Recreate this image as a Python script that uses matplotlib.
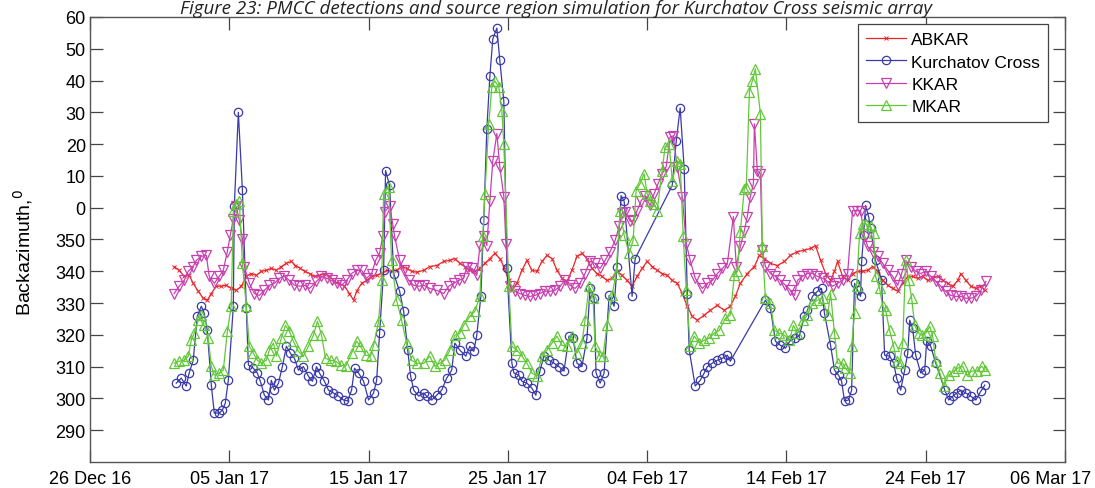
import numpy as np
import matplotlib
matplotlib.use("Agg")
import matplotlib.pyplot as plt
import matplotlib.dates as mdates
from matplotlib.ticker import FixedLocator
from matplotlib.transforms import ScaledTranslation

# time in days since 26 Dec 2016, backazimuth in degrees (0-360)
base_date = np.datetime64('2016-12-26')

ab_day = [6.04, 6.40, 6.76, 7.12, 7.41, 7.77, 8.13, 8.42, 8.71, 9.06, 9.42, 9.78, 10.14, 10.50, 10.86,
          11.22, 11.58, 11.94, 12.30, 12.66, 13.02, 13.38, 13.74, 14.10, 14.46, 14.75, 15.11, 15.40,
          15.76, 16.12, 16.47, 16.83, 17.19, 17.55, 17.91, 18.27, 18.63, 18.92, 19.14, 19.50, 19.86,
          20.22, 20.58, 20.94, 21.29, 21.65, 22.01, 22.37, 22.73, 23.09, 23.45, 23.96, 24.39, 24.89,
          25.40, 25.83, 26.19, 26.55, 26.91, 27.27, 27.63, 27.99, 28.35, 28.71, 29.06, 29.42, 29.71,
          30.07, 30.29, 30.65, 31.01, 31.37, 31.73, 32.09, 32.45, 32.81, 33.17, 33.53, 33.88, 34.24,
          34.60, 34.96, 35.32, 35.68, 36.04, 36.40, 36.76, 37.12, 37.48, 37.84, 38.20, 38.56, 38.92,
          39.28, 39.64, 40.00, 40.36, 40.72, 41.08, 41.44, 41.80, 42.16, 42.52, 42.88, 43.24, 43.60,
          44.10, 44.53, 45.04, 45.54, 45.97, 46.33, 46.69, 47.19, 47.70, 48.06, 48.42, 48.85, 49.35,
          49.86, 50.29, 50.79, 51.29, 51.73, 52.09, 52.45, 52.81, 53.17, 53.45, 53.67, 54.03, 54.39,
          54.75, 55.11, 55.47, 55.83, 56.19, 56.55, 56.91, 57.27, 57.63, 57.99, 58.35, 58.71, 59.06,
          59.42, 59.78, 60.14, 60.50, 60.86, 61.22, 61.58, 61.94, 62.30, 62.52, 62.88, 63.24, 63.60,
          63.96, 64.24]
ab_az = [341.5, 340.3, 338.4, 338.7, 336.2, 333.7, 331.5, 330.9, 333.0, 335.3, 335.3, 335.6, 334.6,
         334.0, 335.3, 338.4, 339.3, 338.7, 340.0, 340.3, 340.9, 340.3, 341.5, 342.5, 343.1, 341.8,
         340.9, 340.0, 339.3, 338.4, 338.7, 339.3, 338.4, 336.8, 336.2, 335.3, 333.0, 330.9, 333.7,
         336.2, 337.1, 338.4, 338.7, 339.3, 340.3, 340.0, 340.3, 341.5, 340.9, 340.0, 339.7, 340.3,
         341.5, 341.8, 343.1, 343.4, 344.0, 342.5, 341.5, 340.3, 340.0, 340.9, 342.5, 344.0, 345.6,
         344.0, 341.5, 337.1, 334.0, 336.2, 340.3, 343.4, 340.3, 340.0, 343.1, 345.0, 344.0, 340.3,
         337.8, 336.8, 340.3, 344.7, 345.6, 344.0, 340.9, 339.3, 338.4, 337.1, 337.8, 340.0, 338.7,
         337.1, 335.3, 338.4, 340.9, 343.1, 341.5, 340.3, 339.3, 338.7, 337.1, 336.2, 333.0, 329.0,
         325.8, 324.6, 326.2, 327.7, 329.3, 327.7, 329.0, 332.1, 336.2, 339.3, 341.5, 345.0, 344.0,
         342.5, 341.8, 343.1, 345.0, 346.2, 346.6, 347.2, 348.1, 343.4, 339.3, 337.1, 340.0, 343.1,
         338.4, 337.1, 339.3, 340.0, 340.0, 340.3, 341.5, 340.0, 337.1, 335.6, 334.6, 333.7, 336.2,
         338.4, 338.4, 337.8, 338.4, 337.1, 337.8, 338.4, 337.1, 336.2, 335.3, 337.1, 339.3, 337.1,
         335.3, 334.6, 335.3, 334.0]

kc_day = [6.19, 6.55, 6.91, 7.12, 7.41, 7.70, 7.99, 8.20, 8.42, 8.71, 8.92, 9.28, 9.50, 9.71, 9.93,
          10.29, 10.36, 10.65, 10.94, 11.22, 11.37, 11.73, 12.01, 12.23, 12.52, 12.81, 13.02, 13.24,
          13.53, 13.81, 14.10, 14.39, 14.68, 14.96, 15.32, 15.68, 15.97, 16.26, 16.47, 16.83, 17.12,
          17.48, 17.84, 18.20, 18.49, 18.78, 18.99, 19.28, 19.64, 20.00, 20.36, 20.58, 20.79, 21.08,
          21.22, 21.51, 21.80, 22.23, 22.52, 22.81, 23.02, 23.24, 23.60, 23.96, 24.17, 24.53, 24.89,
          25.25, 25.61, 25.97, 26.19, 26.55, 26.98, 27.27, 27.55, 27.77, 28.06, 28.27, 28.49, 28.71,
          28.92, 29.21, 29.42, 29.71, 29.93, 30.29, 30.43, 30.79, 31.01, 31.37, 31.73, 32.01, 32.30,
          32.59, 32.95, 33.31, 33.67, 34.03, 34.39, 34.68, 34.96, 35.32, 35.68, 35.90, 36.19, 36.33,
          36.62, 36.91, 37.27, 37.63, 37.84, 38.13, 38.35, 38.92, 39.14, 41.80, 42.09, 42.37, 42.66,
          42.88, 43.02, 43.45, 43.81, 44.10, 44.32, 44.68, 45.04, 45.40, 45.76, 45.97, 48.49, 48.85,
          49.21, 49.57, 49.93, 50.29, 50.65, 50.94, 51.29, 51.51, 51.87, 52.23, 52.52, 52.73, 53.17,
          53.45, 53.74, 53.96, 54.17, 54.46, 54.68, 54.89, 55.11, 55.32, 55.40, 55.54, 55.68, 55.90,
          56.04, 56.40, 56.83, 57.05, 57.41, 57.70, 57.91, 58.20, 58.49, 58.71, 58.85, 59.06, 59.28,
          59.64, 59.93, 60.07, 60.36, 60.72, 61.37, 61.65, 61.94, 62.23, 62.52, 62.88, 63.24, 63.60,
          63.96, 64.24]
kc_az = [304.8, 306.4, 303.9, 308.0, 312.0, 325.8, 329.0, 326.8, 321.4, 304.2, 295.4, 295.4, 296.3,
         298.5, 305.7, 329.0, 0.4, 30.0, 5.7, 328.4, 310.5, 309.5, 308.0, 305.4, 301.0, 299.5, 305.7,
         302.6, 304.8, 310.0, 316.4, 314.2, 312.6, 308.9, 310.0, 307.0, 305.4, 310.0, 308.0, 305.4,
         302.6, 301.7, 300.7, 299.5, 299.2, 302.6, 309.5, 308.0, 305.4, 299.5, 301.7, 305.7, 320.5,
         340.3, 11.7, 7.0, 339.3, 333.7, 327.4, 315.2, 307.0, 302.6, 300.7, 301.7, 300.7, 299.5, 301.0,
         302.6, 306.4, 308.9, 317.4, 315.2, 313.3, 316.4, 314.8, 319.9, 332.1, 356.0, 24.8, 41.5, 53.1,
         56.5, 46.5, 33.6, 341.0, 311.1, 308.0, 307.3, 305.4, 304.8, 303.2, 301.0, 308.6, 313.3, 312.0,
         311.1, 310.0, 308.6, 319.6, 319.0, 311.1, 310.0, 319.0, 334.6, 331.5, 308.0, 304.8, 308.0,
         332.4, 329.0, 341.5, 3.8, 2.0, 332.1, 344.0, 7.0, 21.0, 31.4, 12.3, 333.0, 315.2, 303.9,
         305.7, 308.0, 310.0, 311.1, 312.0, 312.6, 313.6, 311.7, 330.9, 328.4, 318.0, 316.7, 315.8,
         318.3, 319.0, 319.9, 325.8, 327.7, 332.1, 333.7, 334.6, 326.8, 316.7, 308.9, 307.3, 305.4,
         299.2, 299.5, 302.6, 336.2, 334.0, 332.1, 343.1, 351.3, 0.7, 357.2, 353.5, 343.4, 337.1,
         313.6, 313.3, 311.1, 306.4, 302.6, 308.9, 314.2, 324.6, 322.1, 313.6, 308.0, 308.9, 318.0,
         316.4, 311.1, 302.6, 299.5, 300.7, 301.7, 302.6, 301.7, 300.7, 299.5, 302.3, 304.2]

kk_day = [6.04, 6.40, 6.76, 7.05, 7.41, 7.63, 7.99, 8.35, 8.56, 8.92, 9.28, 9.57, 9.86, 10.07, 10.29,
          10.50, 10.72, 10.94, 11.08, 11.44, 11.80, 12.16, 12.52, 12.88, 13.24, 13.60, 13.96, 14.32,
          14.68, 15.04, 15.40, 15.76, 16.26, 16.62, 16.98, 17.34, 17.70, 18.06, 18.42, 18.78, 19.14,
          19.50, 19.86, 20.22, 20.50, 20.79, 21.01, 21.15, 21.51, 21.73, 21.87, 22.23, 22.52, 22.88,
          23.24, 23.60, 23.96, 24.39, 24.89, 25.40, 25.76, 26.12, 26.47, 26.83, 27.05, 27.41, 27.77,
          27.99, 28.27, 28.49, 28.71, 28.92, 29.21, 29.42, 29.71, 29.86, 30.14, 30.50, 30.86, 31.22,
          31.58, 31.94, 32.30, 32.66, 33.02, 33.38, 33.74, 34.10, 34.46, 34.82, 35.18, 35.54, 35.90,
          36.26, 36.62, 36.98, 37.34, 37.70, 37.99, 38.20, 38.42, 38.78, 38.99, 39.28, 39.57, 39.86,
          40.22, 40.50, 40.79, 41.08, 41.37, 41.65, 41.87, 42.16, 42.52, 42.81, 43.09, 43.45, 43.96,
          44.32, 44.68, 45.04, 45.40, 45.76, 46.19, 46.40, 46.69, 46.98, 47.19, 47.41, 47.63, 47.70,
          47.91, 48.13, 48.27, 48.49, 48.85, 49.21, 49.57, 49.93, 50.29, 50.58, 50.79, 51.15, 51.51,
          51.87, 52.23, 52.59, 52.95, 53.31, 53.67, 54.03, 54.39, 54.75, 55.04, 55.32, 55.61, 55.83,
          56.19, 56.55, 56.91, 57.27, 57.63, 57.99, 58.27, 58.56, 58.92, 59.28, 59.64, 60.00, 60.36,
          60.72, 61.08, 61.44, 61.80, 62.16, 62.52, 62.88, 63.24, 63.60, 63.96, 64.32]
kk_az = [333.0, 335.3, 337.1, 340.0, 341.5, 343.4, 344.7, 345.0, 338.4, 336.2, 338.4, 340.3, 346.2,
         351.3, 356.6, 0.4, 356.0, 350.3, 341.5, 336.2, 333.0, 332.4, 334.0, 335.6, 336.2, 337.8,
         338.4, 337.1, 335.6, 335.3, 335.6, 334.6, 336.8, 338.4, 337.8, 337.1, 336.2, 335.6, 337.1,
         339.3, 340.3, 340.3, 337.8, 339.3, 343.4, 345.6, 351.0, 358.8, 0.4, 355.0, 351.0, 343.4,
         340.3, 337.1, 335.6, 335.3, 335.6, 334.6, 334.0, 333.0, 335.3, 336.2, 337.1, 337.8, 341.5,
         340.9, 338.7, 347.8, 351.0, 348.1, 2.2, 14.8, 23.3, 12.9, 3.5, 348.7, 335.3, 333.7, 333.0,
         332.4, 332.1, 332.4, 333.0, 333.7, 333.7, 334.0, 335.3, 337.1, 335.6, 334.6, 336.2, 339.3,
         343.1, 342.5, 340.9, 343.4, 346.2, 349.7, 354.1, 358.2, 358.8, 355.7, 356.0, 359.1, 2.2, 3.8,
         0.7, 4.4, 7.6, 10.7, 12.9, 22.3, 22.6, 12.9, 3.5, 348.7, 343.4, 337.8, 334.6, 336.2, 337.1,
         339.3, 340.9, 342.5, 357.2, 341.5, 347.8, 352.8, 357.2, 3.5, 7.6, 26.4, 11.7, 10.7, 346.6,
         341.5, 339.3, 338.4, 337.1, 335.6, 334.0, 332.4, 337.1, 338.4, 339.3, 339.3, 338.4, 337.8,
         336.8, 335.3, 336.2, 337.1, 339.3, 359.1, 359.1, 359.1, 351.0, 347.8, 346.2, 344.7, 342.5,
         340.3, 338.4, 335.6, 339.3, 343.4, 341.5, 340.0, 339.3, 340.0, 338.4, 336.8, 335.3, 333.7,
         332.4, 332.1, 332.1, 331.5, 331.5, 332.1, 334.0, 336.8]

mk_day = [6.04, 6.40, 6.76, 7.05, 7.27, 7.48, 7.77, 7.99, 8.20, 8.49, 8.71, 8.92, 9.28, 9.57, 9.86,
          10.14, 10.29, 10.50, 10.72, 10.94, 11.22, 11.44, 11.73, 12.01, 12.30, 12.66, 12.88, 13.17,
          13.38, 13.74, 14.03, 14.32, 14.60, 14.96, 15.32, 15.68, 16.04, 16.33, 16.62, 16.91, 17.27,
          17.63, 17.99, 18.35, 18.78, 19.14, 19.42, 19.78, 20.14, 20.36, 20.72, 20.94, 21.08, 21.44,
          21.65, 22.01, 22.37, 22.73, 23.09, 23.45, 23.96, 24.39, 24.75, 25.11, 25.47, 25.83, 26.19,
          26.55, 26.83, 27.27, 27.63, 27.99, 28.20, 28.35, 28.63, 28.85, 29.06, 29.35, 29.57, 29.71,
          30.07, 30.29, 30.65, 31.01, 31.37, 31.73, 32.09, 32.45, 32.81, 33.17, 33.53, 33.88, 34.24,
          34.60, 34.96, 35.32, 35.54, 35.83, 36.12, 36.26, 36.62, 36.83, 37.12, 37.48, 37.77, 38.06,
          38.35, 38.71, 38.99, 39.21, 39.50, 39.78, 40.00, 40.22, 40.50, 40.72, 41.08, 41.29, 41.58,
          41.80, 42.16, 42.37, 42.59, 42.81, 43.09, 43.38, 43.74, 44.10, 44.46, 44.82, 45.18, 45.61,
          45.97, 46.26, 46.47, 46.69, 46.98, 47.12, 47.34, 47.55, 47.77, 48.13, 48.27, 48.49, 48.85,
          49.14, 49.50, 49.86, 50.22, 50.50, 50.79, 51.22, 51.51, 51.87, 52.23, 52.59, 52.95, 53.17,
          53.45, 53.67, 54.03, 54.24, 54.53, 54.68, 54.89, 55.04, 55.25, 55.47, 55.68, 56.04, 56.26,
          56.40, 56.69, 56.91, 57.12, 57.41, 57.70, 57.91, 58.13, 58.35, 58.56, 58.78, 58.99, 59.21,
          59.50, 59.71, 60.00, 60.29, 60.50, 60.72, 61.01, 61.29, 61.65, 62.01, 62.30, 62.66, 62.95,
          63.31, 63.67, 64.03, 64.24]
mk_az = [311.1, 311.7, 312.0, 313.3, 318.3, 320.5, 324.6, 326.2, 323.0, 318.9, 310.1, 307.3, 308.0,
         308.9, 321.1, 329.0, 359.1, 1.3, 2.0, 342.5, 329.0, 316.4, 314.2, 312.0, 311.1, 312.0, 315.2,
         317.4, 313.3, 319.0, 323.0, 321.1, 318.0, 314.8, 313.3, 316.4, 319.9, 324.3, 319.9, 312.6,
         312.0, 311.7, 310.5, 310.1, 314.2, 318.0, 316.4, 313.6, 313.3, 316.7, 324.3, 337.1, 4.4, 6.6,
         343.4, 330.9, 324.6, 317.4, 312.0, 311.1, 311.0, 313.3, 310.1, 311.1, 312.0, 315.2, 319.9,
         320.5, 323.0, 325.8, 327.4, 332.1, 351.0, 4.4, 26.4, 38.0, 39.9, 38.0, 30.5, 20.0, 335.3,
         316.4, 315.2, 313.3, 311.1, 308.0, 307.0, 313.3, 315.2, 317.4, 319.6, 316.7, 316.4, 319.6,
         314.2, 317.4, 324.6, 335.3, 331.5, 316.4, 313.3, 313.3, 323.0, 332.4, 339.3, 359.1, 351.3,
         345.6, 349.7, 5.4, 7.6, 10.7, 4.4, 2.2, 1.3, 359.1, 11.7, 19.2, 20.1, 8.5, 14.8, 13.9, 351.0,
         334.0, 316.4, 319.6, 317.4, 318.3, 319.0, 320.5, 321.4, 325.2, 326.2, 338.7, 340.0, 352.5,
         6.0, 6.6, 36.5, 39.9, 43.7, 29.6, 347.8, 331.5, 329.9, 321.4, 320.5, 319.9, 318.3, 323.0,
         320.5, 324.6, 326.2, 329.9, 330.9, 331.5, 326.2, 333.0, 320.5, 311.1, 311.1, 309.5, 308.0,
         316.4, 326.8, 335.3, 351.9, 355.0, 355.0, 354.1, 351.9, 338.4, 334.6, 329.0, 327.7, 321.4,
         316.4, 311.7, 311.1, 317.4, 343.4, 337.1, 331.5, 323.0, 320.5, 319.9, 320.5, 322.7, 319.6,
         311.7, 308.0, 303.9, 307.3, 308.6, 309.5, 310.1, 307.3, 308.6, 308.6, 310.1, 308.9]

x_ticks = ['2016-12-26', '2017-01-05', '2017-01-15', '2017-01-25', '2017-02-04',
           '2017-02-14', '2017-02-24', '2017-03-06']
y_ticks = [290, 300, 310, 320, 330, 340, 350, 360, 370, 380, 390, 400, 410, 420]


def to_x(days):
    return mdates.date2num(base_date) + np.array(days)


def unwrap(az):
    # azimuths past north are drawn above 360 so the curves stay continuous
    az = np.array(az, dtype=float)
    return np.where(az < 200, az + 360, az)


plt.rcParams['font.family'] = ['Liberation Sans', 'DejaVu Sans']

fig = plt.figure(figsize=(10.95, 4.89), dpi=100)
ax = fig.add_axes([0.0822, 0.0532, 0.8904, 0.9100])

ax.plot(to_x(ab_day), unwrap(ab_az), color='#e8262a', lw=0.9, marker='x', ms=2.5, mew=0.7,
        label='ABKAR')
ax.plot(to_x(kc_day), unwrap(kc_az), color='#3a3aa8', lw=0.9, marker='o', ms=6, mfc='none', mew=0.9,
        label='Kurchatov Cross')
ax.plot(to_x(kk_day), unwrap(kk_az), color='#c840b0', lw=0.9, marker='v', ms=6.5, mfc='none', mew=0.9,
        label='KKAR')
ax.plot(to_x(mk_day), unwrap(mk_az), color='#62c83a', lw=0.9, marker='^', ms=6.5, mfc='none', mew=0.9,
        label='MKAR')

ax.set_xlim(mdates.date2num(np.datetime64(x_ticks[0])), mdates.date2num(np.datetime64(x_ticks[-1])))
ax.set_ylim(280, 420)
ax.xaxis.set_major_locator(FixedLocator(mdates.date2num(np.array(x_ticks, dtype='datetime64[D]'))))
ax.xaxis.set_major_formatter(mdates.DateFormatter('%d %b %y'))
ax.set_yticks(y_ticks)
ax.set_yticklabels([str(v % 360) for v in y_ticks])

ax.tick_params(direction='in', length=9, width=0.9, color='#444444', labelsize=13,
               top=True, right=True)
ax.tick_params(axis='y', pad=3)
ax.tick_params(axis='x', pad=6)
for s in ax.spines.values():
    s.set_color('#555555')
    s.set_linewidth(1.0)

ax.set_ylabel('Backazimuth,$^0$', fontsize=14)
ax.yaxis.set_label_coords(-0.056, 0.474)

leg = ax.legend(loc='upper right', bbox_to_anchor=(0.9826, 0.984), fontsize=12.5, fancybox=False,
                edgecolor='#444444', framealpha=1, handlelength=2.3, handletextpad=0.3,
                borderpad=0.45, labelspacing=0.42, borderaxespad=0)
leg.get_frame().set_linewidth(0.9)

fig.text(0.508, 1 - 14 / 489, 'Figure 23: PMCC detections and source region simulation for '
         'Kurchatov Cross seismic array', ha='center', va='baseline', fontsize=13.5,
         style='italic', color='#222222', family=['Open Sans', 'DejaVu Sans'])

# last date label sits against the right edge, nudge it inwards
fig.canvas.draw()
last = ax.get_xticklabels()[-1]
last.set_transform(last.get_transform() + ScaledTranslation(-14 / 100, 0, fig.dpi_scale_trans))

fig.savefig('out.png', dpi=100)
